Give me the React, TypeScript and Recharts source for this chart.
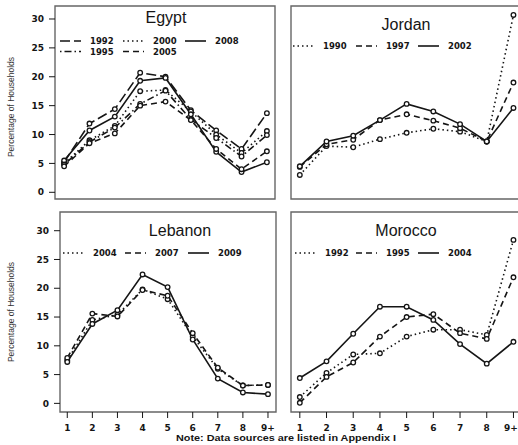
import React from 'react';
import { LineChart, Line, XAxis, YAxis, ReferenceArea } from 'recharts';

// household size categories (x axis)
const SIZES = ['1', '2', '3', '4', '5', '6', '7', '8', '9+'];
const Y_TICKS = [0, 5, 10, 15, 20, 25, 30];

// percentage of households by household size
const EGYPT_1992 = [5.2, 11.9, 14.4, 20.7, 20.0, 14.2, 10.7, 7.5, 13.7];
const EGYPT_1995 = [4.8, 8.7, 11.2, 15.3, 17.6, 12.6, 9.4, 6.2, 9.9];
const EGYPT_2000 = [5.0, 9.0, 11.5, 17.5, 17.7, 14.0, 10.0, 6.8, 10.6];
const EGYPT_2005 = [4.5, 8.5, 10.2, 15.0, 15.7, 12.5, 7.5, 4.0, 7.1];
const EGYPT_2008 = [5.5, 10.7, 13.1, 19.3, 19.8, 13.5, 7.0, 3.5, 5.2];

const JORDAN_1990 = [3.0, 8.0, 7.8, 9.2, 10.3, 11.0, 10.5, 8.8, 30.7];
const JORDAN_1997 = [4.4, 8.3, 9.1, 12.5, 13.5, 12.4, 11.1, 8.8, 19.0];
const JORDAN_2002 = [4.5, 8.8, 9.8, 12.5, 15.3, 14.0, 11.8, 8.8, 14.6];

const LEBANON_2004 = [7.5, 14.5, 15.4, 19.8, 18.1, 11.6, 6.0, 3.1, 3.2];
const LEBANON_2007 = [7.9, 15.6, 15.1, 19.7, 18.7, 12.2, 6.2, 3.1, 3.2];
const LEBANON_2009 = [7.2, 13.8, 16.2, 22.4, 20.2, 11.1, 4.3, 1.9, 1.6];

const MOROCCO_1992 = [1.1, 5.3, 8.5, 8.7, 11.6, 12.8, 12.8, 11.9, 28.4];
const MOROCCO_1995 = [0.1, 4.6, 7.1, 11.6, 15.0, 15.5, 12.2, 11.2, 21.9];
const MOROCCO_2004 = [4.4, 7.3, 12.1, 16.8, 16.8, 14.5, 10.3, 6.9, 10.7];

const DASH = {
  solid: undefined,
  dotted: '1.5 3',
  dashed: '6 4',
  longdash: '10 4',
  dotdash: '1.5 3 7 3',
};

type Series = { year: string; values: number[]; dash?: string };

const toRows = (series: Series[]) =>
  SIZES.map((size, i) => {
    const row: Record<string, number | string> = { x: i + 1, size };
    series.forEach((s) => {
      row[s.year] = s.values[i];
    });
    return row;
  });

const INK = '#151515';
const PAGE_W = 518;
const TICK_FONT = { fontFamily: 'DejaVu Sans', fontWeight: 700, fontSize: 9, fill: INK };

type PanelProps = {
  title: string;
  series: Series[];
  left: number;
  top: number;
  width: number;
  height: number;
  marginTop: number;
  marginRight: number;
  yAxisWidth: number;
  xAxisHeight: number;
  xDomain: [number, number];
  yDomain: [number, number];
  xLabels: boolean;
  yLabels: boolean;
  titlePos: [number, number];
  legendSlots: [number, number][];
};

const Panel: React.FC<PanelProps> = (p) => {
  // size labels; the last one is nudged left so it stays on the page
  const renderSizeTick = (t: any) => {
    const label = SIZES[t.payload.value - 1];
    const half = label.length * 3.3;
    const limit = PAGE_W - p.left - half - 0.5;
    return (
      <text x={Math.min(t.x, limit)} y={t.y} dy="0.71em" textAnchor="middle" {...TICK_FONT}>
        {label}
      </text>
    );
  };

  return (
    <div style={{ position: 'absolute', left: p.left, top: p.top }}>
      <LineChart
        width={p.width}
        height={p.height}
        data={toRows(p.series)}
        margin={{ top: p.marginTop, right: p.marginRight, left: 0, bottom: 0 }}
      >
        <XAxis
          type="number"
          dataKey="x"
          domain={p.xDomain}
          ticks={[1, 2, 3, 4, 5, 6, 7, 8, 9]}
          interval={0}
          allowDataOverflow
          height={p.xAxisHeight}
          axisLine={false}
          tickLine={{ stroke: INK, strokeWidth: 1 }}
          tickSize={6}
          tickMargin={7}
          tick={p.xLabels ? renderSizeTick : false}
        />
        <YAxis
          type="number"
          domain={p.yDomain}
          ticks={Y_TICKS}
          interval={0}
          allowDataOverflow
          width={p.yAxisWidth}
          axisLine={false}
          tickLine={{ stroke: INK, strokeWidth: 1 }}
          tickSize={6}
          tickMargin={5}
          tick={p.yLabels ? TICK_FONT : false}
        />
        <ReferenceArea
          x1={p.xDomain[0]}
          x2={p.xDomain[1]}
          y1={p.yDomain[0]}
          y2={p.yDomain[1]}
          ifOverflow="visible"
          fill="none"
          stroke="#666"
          strokeWidth={1.4}
        />
        {p.series.map((s) => (
          <Line
            key={s.year}
            type="linear"
            dataKey={s.year}
            stroke={INK}
            strokeWidth={1.6}
            strokeDasharray={s.dash}
            dot={{ r: 2.3, stroke: INK, strokeWidth: 1.3, fill: '#fff', strokeDasharray: 'none' }}
            isAnimationActive={false}
          />
        ))}
      </LineChart>
      <svg
        width={p.width}
        height={p.height}
        style={{ position: 'absolute', left: 0, top: 0, pointerEvents: 'none' }}
      >
        <text
          x={p.titlePos[0] - p.left}
          y={p.titlePos[1] - p.top}
          textAnchor="middle"
          fontFamily="Liberation Sans, Arial, sans-serif"
          fontSize={16}
          fill={INK}
        >
          {p.title}
        </text>
        {p.series.map((s, i) => {
          const [sx, sy] = p.legendSlots[i];
          const x = sx - p.left;
          const y = sy - p.top;
          return (
            <g key={s.year}>
              <line x1={x} x2={x + 21} y1={y} y2={y} stroke={INK} strokeWidth={1.6} strokeDasharray={s.dash} />
              <text x={x + 30} y={y + 3.2} {...TICK_FONT} fontSize={8.5}>
                {s.year}
              </text>
            </g>
          );
        })}
      </svg>
    </div>
  );
};

const egypt: Series[] = [
  { year: '1992', values: EGYPT_1992, dash: DASH.longdash },
  { year: '2000', values: EGYPT_2000, dash: DASH.dotted },
  { year: '2008', values: EGYPT_2008, dash: DASH.solid },
  { year: '1995', values: EGYPT_1995, dash: DASH.dotdash },
  { year: '2005', values: EGYPT_2005, dash: DASH.dashed },
];

const jordan: Series[] = [
  { year: '1990', values: JORDAN_1990, dash: DASH.dotted },
  { year: '1997', values: JORDAN_1997, dash: DASH.dashed },
  { year: '2002', values: JORDAN_2002, dash: DASH.solid },
];

const lebanon: Series[] = [
  { year: '2004', values: LEBANON_2004, dash: DASH.dotted },
  { year: '2007', values: LEBANON_2007, dash: DASH.dashed },
  { year: '2009', values: LEBANON_2009, dash: DASH.solid },
];

const morocco: Series[] = [
  { year: '1992', values: MOROCCO_1992, dash: DASH.dotted },
  { year: '1995', values: MOROCCO_1995, dash: DASH.dashed },
  { year: '2004', values: MOROCCO_2004, dash: DASH.solid },
];

const TOP_Y: [number, number] = [-1.16, 32.25];
const BOTTOM_Y: [number, number] = [-1.5, 33.25];

export default function App() {
  return (
    <div
      style={{
        position: 'absolute',
        left: 0,
        top: 0,
        width: PAGE_W,
        height: 445,
        overflow: 'hidden',
        background: '#fff',
      }}
    >
      <Panel
        title="Egypt"
        series={egypt}
        left={0}
        top={0}
        width={280}
        height={212}
        marginTop={6}
        marginRight={5}
        yAxisWidth={55}
        xAxisHeight={13}
        xDomain={[0.64, 9.32]}
        yDomain={TOP_Y}
        xLabels={false}
        yLabels
        titlePos={[166, 23]}
        legendSlots={[[60, 41], [123, 41], [185, 41], [60, 51.5], [123, 51.5]]}
      />
      <Panel
        title="Jordan"
        series={jordan}
        left={260}
        top={0}
        width={265}
        height={212}
        marginTop={6}
        marginRight={3}
        yAxisWidth={31}
        xAxisHeight={13}
        xDomain={[0.67, 9.32]}
        yDomain={TOP_Y}
        xLabels={false}
        yLabels={false}
        titlePos={[406, 29.5]}
        legendSlots={[[293, 46], [356, 46], [418, 46]]}
      />
      <Panel
        title="Lebanon"
        series={lebanon}
        left={0}
        top={200}
        width={280}
        height={245}
        marginTop={12}
        marginRight={4}
        yAxisWidth={60}
        xAxisHeight={33}
        xDomain={[0.71, 9.32]}
        yDomain={BOTTOM_Y}
        xLabels
        yLabels
        titlePos={[180, 236]}
        legendSlots={[[63, 253], [125, 253], [188, 253]]}
      />
      <Panel
        title="Morocco"
        series={morocco}
        left={260}
        top={200}
        width={265}
        height={245}
        marginTop={12}
        marginRight={3}
        yAxisWidth={31}
        xAxisHeight={33}
        xDomain={[0.67, 9.32]}
        yDomain={BOTTOM_Y}
        xLabels
        yLabels={false}
        titlePos={[406, 236]}
        legendSlots={[[295, 253], [356, 253], [418, 253]]}
      />
      {/* shared axis titles and footnote */}
      <svg
        width={PAGE_W}
        height={445}
        style={{ position: 'absolute', left: 0, top: 0, pointerEvents: 'none' }}
      >
        <text
          transform="translate(14,107) rotate(-90)"
          textAnchor="middle"
          fontFamily="Liberation Sans, Arial, sans-serif"
          fontSize={8.5}
          fill="#333"
        >
          Percentage of Households
        </text>
        <text
          transform="translate(14,312) rotate(-90)"
          textAnchor="middle"
          fontFamily="Liberation Sans, Arial, sans-serif"
          fontSize={8.5}
          fill="#333"
        >
          Percentage of Households
        </text>
        <text
          x={176}
          y={441}
          textLength={220}
          lengthAdjust="spacingAndGlyphs"
          fontFamily="Liberation Sans, Arial, sans-serif"
          fontWeight={700}
          fontSize={8.5}
          fill={INK}
        >
          Note: Data sources are listed in Appendix I
        </text>
      </svg>
    </div>
  );
}
